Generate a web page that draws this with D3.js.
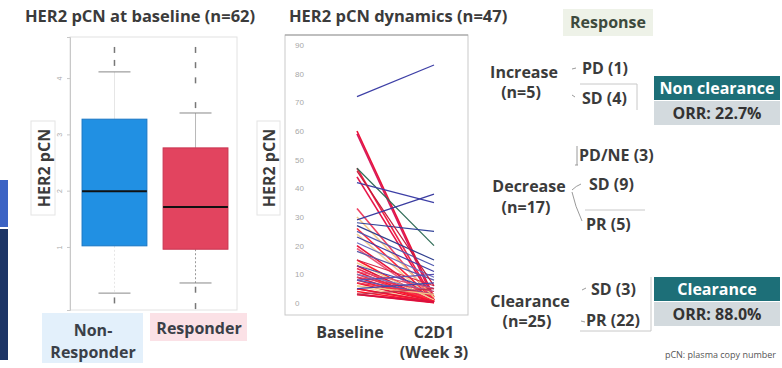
<!DOCTYPE html>
<html>
<head>
<meta charset="utf-8">
<script src="https://cdn.jsdelivr.net/npm/d3@7/dist/d3.min.js"></script>
<style>
  html, body { margin: 0; padding: 0; background: #fff; }
  svg { display: block; font-family: "Open Sans", "Noto Sans", sans-serif; }
</style>
</head>
<body>
<svg id="chart" width="782" height="368"></svg>
<script>
// ---- Baseline HER2 pCN by response group (box plot) ----
const boxGroups = ["Non-Responder", "Responder"];
const boxQ1 = [1.02, 0.96];
const boxMedian = [1.99, 1.71];
const boxQ3 = [3.27, 2.76];
const whiskerLow = [0.18, 0.36];
const whiskerHigh = [4.11, 3.38];
const boxOutliers = [[4.50, 4.27, 0.05], [4.50, 4.23, 3.96, 3.52, 0.24, -0.05]];
const boxTicks = [1, 2, 3, 4];

// ---- HER2 pCN dynamics: baseline -> C2D1 per patient ----
const timepoints = ["Baseline", "C2D1"];
const dynTicks = [0, 10, 20, 30, 40, 50, 60, 70, 80, 90];
const increaseBaseline = [72, 29, 8, 5, 3];
const increaseC2D1 = [83, 38, 10, 7, 5];
const decreaseBaseline = [47, 42, 28, 27, 25, 23, 21, 18, 15, 13, 11, 10, 9, 8, 7, 6, 46];
const decreaseC2D1 = [20, 35, 25, 15, 13, 11, 9, 8, 6, 5, 5, 4, 4, 3, 3, 3, 6];
const clearanceBaseline = [60, 59, 47, 44, 33, 30, 26, 24, 20, 19, 15, 14, 13, 12, 11, 10, 9, 8, 7, 6, 5, 5, 4, 3, 3];
const clearanceC2D1 = [2, 1, 1, 0.5, 1, 2, 1, 0.5, 1, 0.5, 0.5, 1, 0.3, 0.5, 0.2, 0.5, 0.3, 0.5, 0.3, 0.2, 0.3, 0.5, 0.2, 0.1, 0.3];

// ---- Response breakdown ----
const groupNames = ["Increase", "Decrease", "Clearance"];
const groupSizes = [5, 17, 25];
const responseLabels = [["PD (1)", "SD (4)"], ["PD/NE (3)", "SD (9)", "PR (5)"], ["SD (3)", "PR (22)"]];
const outcomeNames = ["Non clearance", "Clearance"];
const outcomeORR = ["ORR: 22.7%", "ORR: 88.0%"];

const svg = d3.select("#chart");
const textCol = "#3b3b3b";
const bigFont = 16;

// Side accent bars on the far left
svg.append("rect").attr("x", 0).attr("y", 180).attr("width", 8).attr("height", 47).attr("fill", "#3c63c4");
svg.append("rect").attr("x", 0).attr("y", 229).attr("width", 8).attr("height", 131).attr("fill", "#1d3566");

// ================= Box plot panel =================
svg.append("text").attr("x", 140).attr("y", 22).attr("text-anchor", "middle")
  .attr("font-size", 16.5).attr("font-weight", 700).attr("fill", textCol)
  .text("HER2 pCN at baseline (n=62)");

const bx = d3.scaleBand().domain(boxGroups).range([78, 232]).paddingInner(0.2).paddingOuter(0.05);
const by = d3.scaleLinear().domain([-0.12, 4.73]).range([310, 37]);

svg.append("rect").attr("x", 70).attr("y", 37).attr("width", 167).attr("height", 273)
  .attr("fill", "none").attr("stroke", "#e2e2e2");

const byAxis = svg.append("g").attr("transform", "translate(70,0)")
  .call(d3.axisLeft(by).tickValues(boxTicks).tickSize(3).tickFormat(d3.format("d")));
byAxis.select(".domain").attr("stroke", "#c8c8c8");
byAxis.selectAll(".tick line").attr("stroke", "#c8c8c8");
byAxis.selectAll(".tick text").attr("fill", "#aaa").attr("font-size", 7)
  .attr("transform", "rotate(-90)").attr("text-anchor", "middle").attr("x", 0).attr("dy", "-0.3em")
  .attr("y", -6);

// axis title with a light frame
const bYLab = svg.append("g").attr("transform", "translate(44,168) rotate(-90)");
bYLab.append("rect").attr("x", -47).attr("y", -13).attr("width", 94).attr("height", 24)
  .attr("fill", "#fff").attr("stroke", "#e4e4e4");
bYLab.append("text").attr("text-anchor", "middle").attr("y", 5.5)
  .attr("font-size", bigFont).attr("font-weight", 700).attr("fill", textCol).text("HER2 pCN");

const boxFill = ["#2190e3", "#e2445f"];
const boxStroke = ["#1976c4", "#c93450"];
const whiskerCol = [["#e6e6e6", "#e6e6e6"], ["#b8b8b8", "#9a9a9a"]];
boxGroups.forEach((g, i) => {
  const x0 = bx(g), w = bx.bandwidth(), cx = x0 + w / 2;
  const gg = svg.append("g");
  // whiskers
  gg.append("line").attr("x1", cx).attr("x2", cx).attr("y1", by(boxQ3[i])).attr("y2", by(whiskerHigh[i]))
    .attr("stroke", whiskerCol[i][0]);
  gg.append("line").attr("x1", cx).attr("x2", cx).attr("y1", by(boxQ1[i])).attr("y2", by(whiskerLow[i]))
    .attr("stroke", whiskerCol[i][1]).attr("stroke-dasharray", "2,2");
  [whiskerHigh[i], whiskerLow[i]].forEach(v => {
    gg.append("line").attr("x1", cx - 16).attr("x2", cx + 16).attr("y1", by(v)).attr("y2", by(v))
      .attr("stroke", "#888").attr("stroke-width", 1);
  });
  // box
  gg.append("rect").attr("x", x0).attr("y", by(boxQ3[i])).attr("width", w)
    .attr("height", by(boxQ1[i]) - by(boxQ3[i])).attr("fill", boxFill[i]).attr("stroke", boxStroke[i]);
  gg.append("line").attr("x1", x0).attr("x2", x0 + w).attr("y1", by(boxMedian[i])).attr("y2", by(boxMedian[i]))
    .attr("stroke", "#111").attr("stroke-width", 2);
  // outliers
  boxOutliers[i].forEach(v => {
    gg.append("line").attr("x1", cx).attr("x2", cx).attr("y1", by(v) - 3).attr("y2", by(v) + 3)
      .attr("stroke", "#777").attr("stroke-width", 1.5);
  });
});

// group labels with tinted backgrounds
svg.append("rect").attr("x", 42).attr("y", 313).attr("width", 101).attr("height", 50).attr("fill", "#e3f0fb");
svg.append("rect").attr("x", 150).attr("y", 313).attr("width", 97).attr("height", 28).attr("fill", "#fbe1e6");
const nrLab = svg.append("text").attr("text-anchor", "middle").attr("font-size", bigFont).attr("font-weight", 700).attr("fill", "#3a3f48");
nrLab.append("tspan").attr("x", 93).attr("y", 336).text("Non-");
nrLab.append("tspan").attr("x", 93).attr("y", 358).text("Responder");
svg.append("text").attr("x", 199).attr("y", 334).attr("text-anchor", "middle").attr("font-size", bigFont)
  .attr("font-weight", 700).attr("fill", "#3a3f48").text("Responder");

// ================= Dynamics panel =================
svg.append("text").attr("x", 289).attr("y", 22)
  .attr("font-size", 16.5).attr("font-weight", 700).attr("fill", textCol)
  .text("HER2 pCN dynamics (n=47)");

const dx = d3.scalePoint().domain(timepoints).range([357, 434]);
const dy = d3.scaleLinear().domain([0, 90]).range([303, 45]);

svg.append("rect").attr("x", 285).attr("y", 35).attr("width", 183).attr("height", 280)
  .attr("fill", "#fff").attr("stroke", "#c9c9c9");
svg.append("line").attr("x1", 285).attr("x2", 468).attr("y1", 35).attr("y2", 35).attr("stroke", "#9a9a9a");

const dyAxis = svg.append("g").attr("transform", "translate(285,0)")
  .call(d3.axisRight(dy).tickValues(dynTicks).tickSize(0));
dyAxis.select(".domain").remove();
dyAxis.selectAll(".tick text").attr("fill", "#a8a8a8").attr("font-size", 8).attr("x", 10);

const dYLab = svg.append("g").attr("transform", "translate(269,168) rotate(-90)");
dYLab.append("rect").attr("x", -47).attr("y", -12).attr("width", 94).attr("height", 23)
  .attr("fill", "#fff").attr("stroke", "#e4e4e4");
dYLab.append("text").attr("text-anchor", "middle").attr("y", 5.5)
  .attr("font-size", bigFont).attr("font-weight", 700).attr("fill", textCol).text("HER2 pCN");

const incCols = ["#3d3fa6", "#3a3ca0", "#5b4fb0", "#4446a8", "#c0304a"];
const decCols = ["#2e6b55", "#3d3fa6", "#33449a", "#2f3f8e", "#5059b0", "#3d3fa6", "#6a6fc0", "#5a5aa8",
                 "#d32a4a", "#4a4fb0", "#e35070", "#7a7ac0", "#e03a5a", "#5a5ab0", "#ee3350", "#f0c888", "#c41a3a"];
const clrCols = ["#ee1133", "#d61a5c", "#ef2244", "#e8154a", "#f04060", "#f3c98a", "#ff2a3a", "#f0d098",
                 "#e8153a", "#ef5a7a", "#ff1a2a", "#f2ce92", "#e01030", "#f02a50", "#ee1133", "#ff3344",
                 "#d81848", "#ff1a2a", "#ee1133", "#f4d6a0", "#ff2030", "#e8153a", "#ff1a2a", "#ee1133", "#d81040"];

const lineGen = d3.line().x(d => dx(d[0])).y(d => dy(d[1]));
function drawPairs(b, c, cols, w) {
  svg.append("g").selectAll("path").data(b.map((v, i) => [[timepoints[0], v], [timepoints[1], c[i]]]))
    .join("path").attr("d", lineGen).attr("fill", "none")
    .attr("stroke", (d, i) => cols[i % cols.length]).attr("stroke-width", w);
}
drawPairs(clearanceBaseline, clearanceC2D1, clrCols, 1.6);
drawPairs(decreaseBaseline, decreaseC2D1, decCols, 1.2);
drawPairs(increaseBaseline, increaseC2D1, incCols, 1.2);

svg.append("text").attr("x", dx("Baseline") - 7).attr("y", 338).attr("text-anchor", "middle")
  .attr("font-size", bigFont).attr("font-weight", 700).attr("fill", textCol).text("Baseline");
const c2 = svg.append("text").attr("text-anchor", "middle").attr("font-size", bigFont).attr("font-weight", 700).attr("fill", textCol);
c2.append("tspan").attr("x", dx("C2D1")).attr("y", 338).text("C2D1");
c2.append("tspan").attr("x", dx("C2D1")).attr("y", 358).text("(Week 3)");

// ================= Response breakdown =================
svg.append("rect").attr("x", 563).attr("y", 9).attr("width", 90).attr("height", 27).attr("fill", "#eef2e8");
svg.append("text").attr("x", 608).attr("y", 28).attr("text-anchor", "middle")
  .attr("font-size", bigFont).attr("font-weight", 700).attr("fill", "#3d4a3d").text("Response");

const groupY = [[78, 98], [192, 213], [307, 327]];
const groupX = [524, 529, 530];
groupNames.forEach((g, i) => {
  const t = svg.append("text").attr("text-anchor", "middle").attr("font-size", bigFont).attr("font-weight", 700).attr("fill", textCol);
  t.append("tspan").attr("x", groupX[i]).attr("y", groupY[i][0]).text(g);
  t.append("tspan").attr("x", groupX[i] - 3).attr("y", groupY[i][1]).text(`(n=${groupSizes[i]})`);
});

const respPos = [[[582, 74], [582, 104]], [[579, 161], [589, 190], [586, 230]], [[591, 295], [586, 326]]];
const lineCol = "#c8c8c8";
responseLabels.forEach((labs, i) => {
  labs.forEach((lab, j) => {
    const p = respPos[i][j];
    svg.append("text").attr("x", p[0]).attr("y", p[1]).attr("font-size", bigFont).attr("font-weight", 700)
      .attr("fill", textCol).text(lab);
  });
});
// small connectors next to each response
const conn = svg.append("g").attr("stroke", "#9a9a9a").attr("stroke-width", 1).attr("fill", "none");
conn.append("path").attr("d", "M572,69 l4,-1");
conn.append("path").attr("d", "M572,95 l3,2");
conn.append("path").attr("d", "M577,146 v19 M575,165 h3");
conn.append("path").attr("d", "M572,190 q4,-4 9,-6 M572,192 q3,14 10,29");
conn.append("path").attr("d", "M582,290 l4,-2 M581,321 l4,1");
// faint guide lines
const guide = svg.append("g").attr("stroke", lineCol).attr("stroke-width", 1).attr("fill", "none");
guide.append("path").attr("d", "M580,84 H637 V110");
guide.append("path").attr("d", "M585,210 H645");
guide.append("path").attr("d", "M651,277 V331 M580,331 H651");

// outcome boxes
const outY = [76, 277];
outcomeNames.forEach((o, i) => {
  svg.append("rect").attr("x", 654).attr("y", outY[i]).attr("width", 126).attr("height", 24).attr("fill", "#1d6f78");
  svg.append("text").attr("x", 717).attr("y", outY[i] + 18).attr("text-anchor", "middle")
    .attr("font-size", bigFont).attr("font-weight", 700).attr("fill", "#fff").text(o);
  svg.append("rect").attr("x", 654).attr("y", outY[i] + 25).attr("width", 126).attr("height", 24).attr("fill", "#d3dade");
  svg.append("text").attr("x", 717).attr("y", outY[i] + 43).attr("text-anchor", "middle")
    .attr("font-size", bigFont).attr("font-weight", 700).attr("fill", "#333").text(outcomeORR[i]);
});

svg.append("text").attr("x", 776).attr("y", 358).attr("text-anchor", "end")
  .attr("font-size", 9).attr("fill", "#555").text("pCN: plasma copy number");
</script>
</body>
</html>
